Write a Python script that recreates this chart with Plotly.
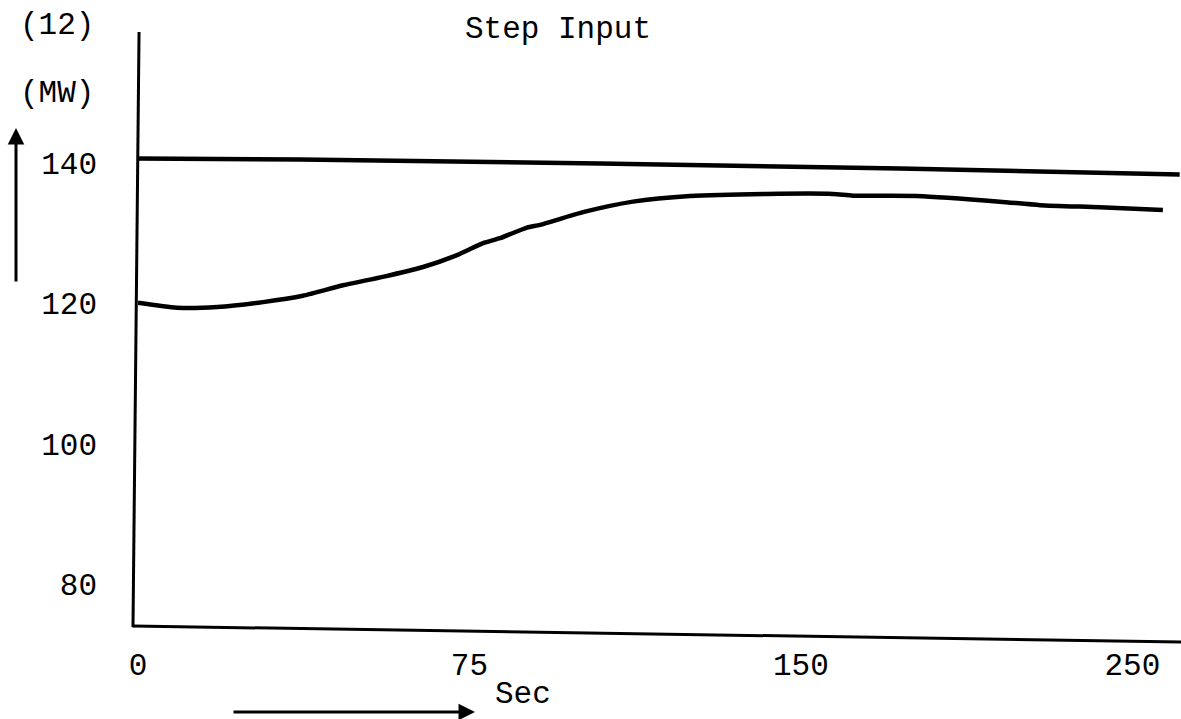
import plotly.graph_objects as go

# Time (s) and output power (MW) of the two traces
time_upper = [0, 36.7, 104.5, 172.4, 235.7]
mw_upper = [140.65, 140.5, 139.93, 139.22, 138.37]

time_lower = [0, 8.8, 17.9, 28.3, 37.3, 46.4, 55.4, 64.5, 72.2, 78.1, 81.9, 88.0,
              91.0, 100.7, 112.0, 124.9, 142.3, 157.2, 161.8, 176.2, 195.0, 204.1,
              217.6, 231.9]
mw_lower = [120.1, 119.4, 119.5, 120.2, 121.1, 122.6, 123.8, 125.2, 126.9, 128.6,
            129.3, 130.8, 131.2, 133.0, 134.5, 135.3, 135.6, 135.6, 135.35, 135.3,
            134.5, 134.0, 133.7, 133.3]

# Axis ticks
x_tick_vals = [0, 75, 150, 225]
x_tick_text = ["0", "75", "150", "250"]
y_tick_vals = [80, 100, 120, 140]
y_tick_text = ["80", "100", "120", "140"]

FONT = "Liberation Mono, Courier New, monospace"
INK = "#000000"

fig = go.Figure()
fig.add_trace(go.Scatter(x=time_upper, y=mw_upper, mode="lines",
                         line=dict(color=INK, width=4.5), hoverinfo="skip"))
fig.add_trace(go.Scatter(x=time_lower, y=mw_lower, mode="lines",
                         line=dict(color=INK, width=4.5, shape="spline", smoothing=0.6),
                         hoverinfo="skip"))

fig.update_layout(
    width=1181, height=719,
    margin=dict(l=138, r=0, t=32, b=87),
    paper_bgcolor="white", plot_bgcolor="white",
    showlegend=False,
    font=dict(family=FONT, size=31, color=INK),
    xaxis=dict(range=[0, 236], showgrid=False, zeroline=False, showline=False,
               tickmode="array", tickvals=x_tick_vals, ticktext=x_tick_text,
               ticks="", ticklabelstandoff=11),
    yaxis=dict(range=[73.24, 158.65], showgrid=False, zeroline=False, showline=False,
               tickmode="array", tickvals=y_tick_vals, ticktext=y_tick_text,
               ticks="", ticklabelstandoff=40),
)

# Hand-drawn axis lines
fig.add_shape(type="line", xref="paper", yref="paper",
              x0=0.001, y0=1.0, x1=-0.0048, y1=0.008,
              line=dict(color=INK, width=3))
fig.add_shape(type="line", xref="paper", yref="paper",
              x0=-0.0048, y0=0.01, x1=1.0, y1=-0.0167,
              line=dict(color=INK, width=3))

# Labels
fig.add_annotation(text="(12)", xref="paper", yref="paper", x=(57 - 138) / 1043,
                   y=(632 - 26) / 600, showarrow=False, xanchor="center", yanchor="middle")
fig.add_annotation(text="(MW)", xref="paper", yref="paper", x=(57 - 138) / 1043,
                   y=(632 - 93) / 600, showarrow=False, xanchor="center", yanchor="middle")
fig.add_annotation(text="Step Input", xref="paper", yref="paper", x=(558 - 138) / 1043,
                   y=(632 - 30) / 600, showarrow=False, xanchor="center", yanchor="middle")
fig.add_annotation(text="Sec", xref="paper", yref="paper", x=(523 - 138) / 1043,
                   y=(632 - 694) / 600, showarrow=False, xanchor="center", yanchor="middle")

# Direction arrows
fig.add_annotation(text="", xref="paper", yref="paper",
                   x=(16 - 138) / 1043, y=(632 - 128) / 600,
                   showarrow=True, ax=0, ay=155, arrowhead=2, arrowsize=1.1,
                   arrowwidth=3, arrowcolor=INK)
fig.add_annotation(text="", xref="paper", yref="paper",
                   x=(475 - 138) / 1043, y=(632 - 712) / 600,
                   showarrow=True, ax=-243, ay=0, arrowhead=2, arrowsize=1.1,
                   arrowwidth=3, arrowcolor=INK)

fig.write_html("out.html")
